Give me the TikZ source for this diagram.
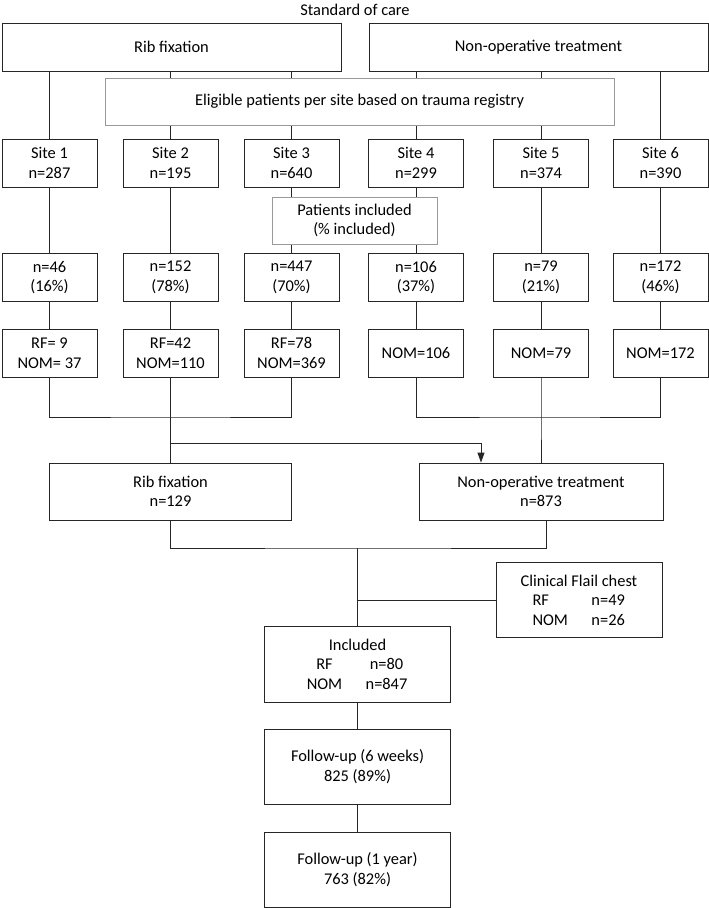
\documentclass[tikz,border=0pt]{standalone}
\usepackage{fontspec}
\setmainfont{Carlito}
\usetikzlibrary{arrows.meta,backgrounds}

\begin{document}
\begin{tikzpicture}[x=1pt,y=-1pt,>={Triangle[length=10pt,width=7pt]},
  font=\fontsize{16.4}{19.5}\selectfont,
  box/.style={draw=black!85,fill=white,line width=0.8pt,inner sep=0pt,align=center},
  greybox/.style={box,draw=black!40},
  sitebox/.style={box,minimum width=95pt,minimum height=48pt},
  midbox/.style={box,minimum width=186pt,minimum height=75pt},
  line/.style={draw=black!85,line width=0.8pt}]
\useasboundingbox (0,0) rectangle (709,908);
\node (soc) at (355,10) {Standard of care};
\node (rf0) [box,minimum width=339pt,minimum height=48pt] at (171.5,47) {Rib fixation};
\node (nt0) [box,minimum width=339pt,minimum height=48pt] at (538.5,47) {Non-operative treatment};
\node (elig) [greybox,minimum width=509pt,minimum height=47pt] at (359.5,101.5) {Eligible patients per site based on trauma registry};
\node (s1) [sitebox] at (49.5,163) {Site 1\\n=287};
\node (s2) [sitebox] at (170.5,163) {Site 2\\n=195};
\node (s3) [sitebox] at (291.5,163) {Site 3\\n=640};
\node (s4) [sitebox] at (416,163) {Site 4\\n=299};
\node (s5) [sitebox] at (541,163) {Site 5\\n=374};
\node (s6) [sitebox] at (660.5,163) {Site 6\\n=390};
\node (pin) [greybox,minimum width=165pt,minimum height=47pt] at (354.5,220.5) {Patients included\\(\% included)};
\node (p1) [sitebox] at (49.5,277.5) {n=46\\(16\%)};
\node (p2) [sitebox] at (170.5,277.5) {n=152\\(78\%)};
\node (p3) [sitebox] at (291.5,277.5) {n=447\\(70\%)};
\node (p4) [sitebox] at (416,277.5) {n=106\\(37\%)};
\node (p5) [sitebox] at (541,277.5) {n=79\\(21\%)};
\node (p6) [sitebox] at (660.5,277.5) {n=172\\(46\%)};
\node (r1) [sitebox] at (49.5,353) {RF= 9\\NOM= 37};
\node (r2) [sitebox] at (170.5,353) {RF=42\\NOM=110};
\node (r3) [sitebox] at (291.5,353) {RF=78\\NOM=369};
\node (r4) [sitebox] at (416,353) {NOM=106};
\node (r5) [sitebox] at (541,353) {NOM=79};
\node (r6) [sitebox] at (660.5,353) {NOM=172};
\node (rf1) [box,minimum width=242pt,minimum height=57pt] at (170.5,491.5) {Rib fixation\\n=129};
\node (nt1) [box,minimum width=244pt,minimum height=57pt] at (541,491.5) {Non-operative treatment\\n=873};
\node (flail) [box,minimum width=166pt,minimum height=75pt] at (579,600) {Clinical Flail chest\\
  \makebox[59pt][l]{RF}\makebox[34pt][l]{n=49}\\\makebox[59pt][l]{NOM}\makebox[34pt][l]{n=26}};
\node (inc) [midbox,minimum height=76pt] at (357.5,664) {Included\\
  \makebox[34pt]{RF}\hspace{24pt}\makebox[42pt]{n=80}\\\makebox[34pt]{NOM}\hspace{24pt}\makebox[42pt]{n=847}};
\node (fu6) [midbox] at (357.5,766.5) {Follow-up (6 weeks)\\825 (89\%)};
\node (fu1) [midbox] at (357.5,869.5) {Follow-up (1 year)\\763 (82\%)};
\coordinate (jl) at (170.5,417);
\coordinate (jr) at (541,417);
\coordinate (ja) at (170.5,443);
\coordinate (ax) at (481,443);
\coordinate (jm) at (357.5,548);
\coordinate (jf) at (357.5,600);
\begin{scope}[on background layer]
\draw[line] (s1 |- rf0.south) -- (s1);
\draw[line] (s2 |- rf0.south) -- (s2);
\draw[line] (s3 |- rf0.south) -- (s3);
\draw[line] (s4 |- nt0.south) -- (s4);
\draw[line] (s5 |- nt0.south) -- (s5);
\draw[line] (s6 |- nt0.south) -- (s6);
\draw[line] (s1) -- (p1);
\draw[line] (s2) -- (p2);
\draw[line] (s3) -- (p3);
\draw[line] (s4) -- (p4);
\draw[line] (s5) -- (p5);
\draw[line] (s6) -- (p6);
\draw[line] (p1) -- (r1);
\draw[line] (p2) -- (r2);
\draw[line] (p3) -- (r3);
\draw[line] (p4) -- (r4);
\draw[line] (p5) -- (r5);
\draw[line] (p6) -- (r6);
\draw[line] (r1) |- (jl) -| (r3);
\draw[line] (r2) -- (jl) -- (rf1);
\draw[line] (r4) |- (jr) -| (r6);
\draw[line] (r5) -- (jr) -- (nt1);
\draw[line,->] (ja) -- (ax) -- (ax |- nt1.north);
\draw[line] (rf1) |- (jm) -| ([xshift=5pt]nt1.south);
\draw[line] (jm) -- (inc);
\draw[line] (jf) -- (flail);
\draw[line] (inc) -- (fu6);
\draw[line] (fu6) -- (fu1);
\end{scope}
\end{tikzpicture}
\end{document}
